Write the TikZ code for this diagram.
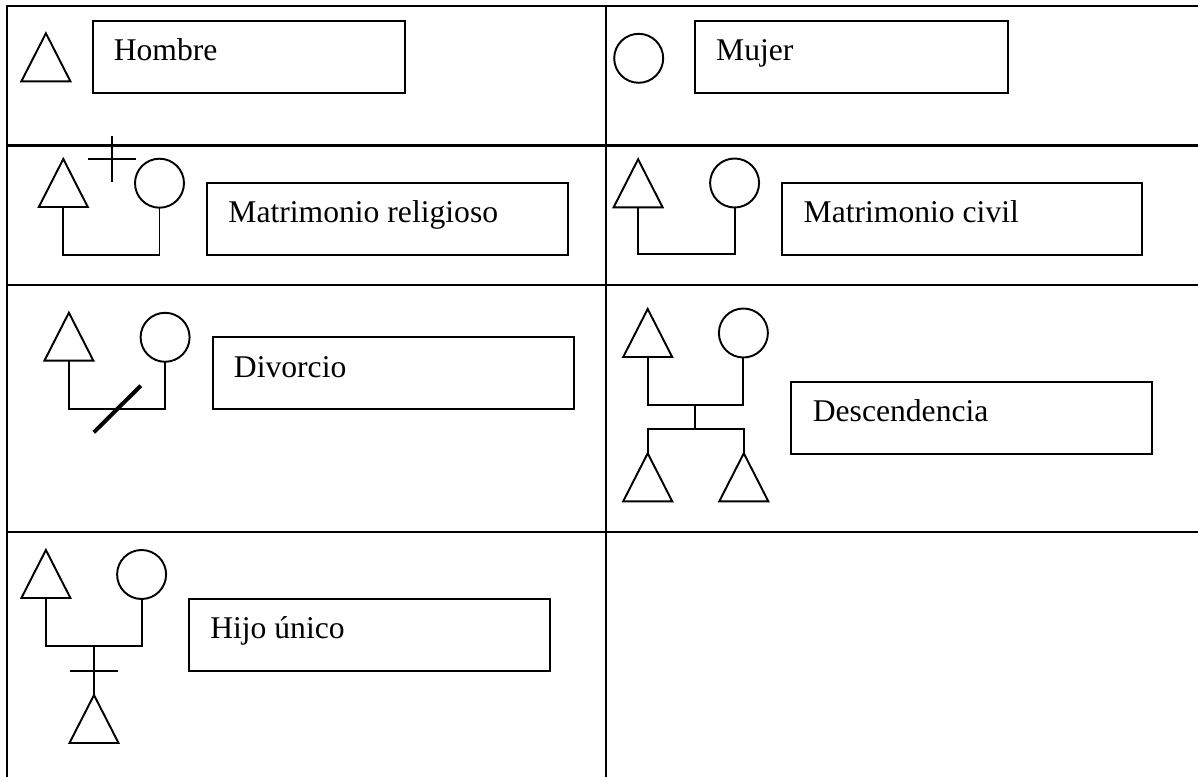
\documentclass[tikz,border=0pt]{standalone}
\usepackage{fontspec}
\setmainfont{Liberation Serif}
\usetikzlibrary{shapes.geometric}

\begin{document}
\begin{tikzpicture}[x = 0.02cm, y = -0.02cm,
  varon/.style = {draw, isosceles triangle, isosceles triangle stretches, shape border rotate=90,
    minimum width=0.98cm, minimum height=0.96cm, inner sep=0pt, outer sep=0pt, line width=1.1pt, anchor=apex},
  mujer/.style = {draw, circle, minimum size=0.98cm, inner sep=0pt, outer sep=0pt, line width=1.1pt},
  caja/.style = {draw, anchor=north west, minimum height=1.44cm, inner sep=0pt, outer sep=0pt, line width=1.1pt},
  texto/.style = {anchor=base west, inner sep=0pt, font=\fontsize{18}{21}\selectfont},
  tabla/.style = {line width=1.7pt},
  linea/.style = {line width=1.1pt}]
\useasboundingbox (0,0) rectangle (1198,777);

% tabla
\draw[tabla] (1198,6) -- (7,6) -- (7,777);
\draw[tabla] (606,6) -- (606,777);
\draw[tabla] (7,145.5) -- (1198,145.5);
\draw[tabla] (7,285) -- (1198,285);
\draw[tabla] (7,532) -- (1198,532);

% hombre / mujer
\node[varon] (v1) at (45.9,33.3) {};
\node[caja, minimum width=6.25cm] (c1) at (93,21) {};
\node[texto] (t1) at ([shift={(20.5,40)}]c1.north west) {Hombre};
\node[mujer] (m1) at (638.7,58.3) {};
\node[caja, minimum width=6.26cm] (c2) at (695.3,21) {};
\node[texto] (t2) at ([shift={(20.5,40)}]c2.north west) {Mujer};

% matrimonio religioso
\node[varon] (v2) at (63.3,159) {};
\node[mujer] (m2) at (159.5,183.2) {};
\coordinate (u2) at (111.4,255);
\draw[linea] (v2.south) |- (u2) -| (m2.south);
\draw[linea] (87.7,159) -- (135.7,159) (111.7,135.7) -- (111.7,182.3);
\node[caja, minimum width=7.23cm] (c3) at (206.6,182.7) {};
\node[texto] (t3) at ([shift={(21.5,40)}]c3.north west) {Matrimonio religioso};

% matrimonio civil
\node[varon] (v3) at (638.1,159.3) {};
\node[mujer] (m3) at (734.6,183) {};
\coordinate (u3) at (686,254.3);
\draw[linea] (v3.south) |- (u3) -| (m3.south);
\node[caja, minimum width=7.2cm] (c4) at (782.3,182.7) {};
\node[texto] (t4) at ([shift={(21,40)}]c4.north west) {Matrimonio civil};

% divorcio
\node[varon] (v4) at (68.9,312.7) {};
\node[mujer] (m4) at (165.1,337.3) {};
\coordinate (u4) at (117,409.3);
\draw[linea] (v4.south) |- (u4) -| (m4.south);
\draw[line width=2.3pt] (93.8,432.3) -- (140.8,385.7);
\node[caja, minimum width=7.22cm] (c5) at (213.1,337.3) {};
\node[texto] (t5) at ([shift={(20.5,40)}]c5.north west) {Divorcio};

% descendencia
\node[varon] (v5) at (647.7,309) {};
\node[mujer] (m5) at (743.4,333) {};
\coordinate (u5) at (695.3,405);
\coordinate (h5) at (695.3,429.3);
\draw[linea] (v5.south) |- (u5) -| (m5.south);
\node[varon] (v6) at (647.7,453.3) {};
\node[varon] (v7) at (743.8,453.3) {};
\draw[linea] (u5) -- (h5);
\draw[linea] (v6.apex) |- (h5) -| (v7.apex);
\node[caja, minimum width=7.22cm] (c6) at (791,381.7) {};
\node[texto] (t6) at ([shift={(21.5,39.5)}]c6.north west) {Descendencia};

% hijo unico
\node[varon] (v8) at (45.9,550) {};
\node[mujer] (m8) at (141.6,574.5) {};
\coordinate (u8) at (94,646);
\draw[linea] (v8.south) |- (u8) -| (m8.south);
\node[varon] (v9) at (94,695) {};
\draw[linea] (u8) -- (v9.apex);
\draw[linea] (70,671) -- (117.5,671);
\node[caja, minimum width=7.22cm] (c7) at (189.4,599) {};
\node[texto] (t7) at ([shift={(20.5,39)}]c7.north west) {Hijo único};
\end{tikzpicture}
\end{document}
